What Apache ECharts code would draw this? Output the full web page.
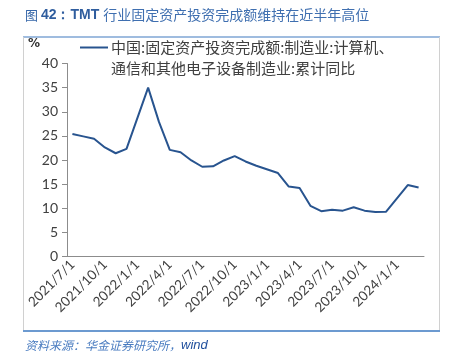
<!DOCTYPE html>
<html><head><meta charset="utf-8">
<script src="https://cdn.jsdelivr.net/npm/echarts@6/dist/echarts.min.js"></script>
<style>html,body{margin:0;padding:0;background:#fff}#c{width:452px;height:360px}</style>
</head><body><div id="c"></div>
<script>
var categories = ["2021/7/1","2021/8/1","2021/9/1","2021/10/1","2021/11/1","2021/12/1",
  "2022/1/1","2022/2/1","2022/3/1","2022/4/1","2022/5/1","2022/6/1","2022/7/1","2022/8/1","2022/9/1","2022/10/1","2022/11/1","2022/12/1",
  "2023/1/1","2023/2/1","2023/3/1","2023/4/1","2023/5/1","2023/6/1","2023/7/1","2023/8/1","2023/9/1","2023/10/1","2023/11/1","2023/12/1",
  "2024/1/1","2024/2/1","2024/3/1"];
var values = [25.4,24.9,24.4,22.6,21.4,22.3,
  null,35.0,27.9,22.1,21.6,19.9,18.6,18.7,19.9,20.8,19.7,18.8,
  null,17.3,14.5,14.2,10.5,9.4,9.7,9.5,10.2,9.5,9.2,9.3,
  null,14.8,14.3];
var seriesName = "中国:固定资产投资完成额:制造业:计算机、通信和其他电子设备制造业:累计同比";
var legendLines = ["中国:固定资产投资完成额:制造业:计算机、","通信和其他电子设备制造业:累计同比"];
var titleParts = ["图 ", "42：TMT ", "行业固定资产投资完成额维持在近半年高位"];
var sourceParts = ["资料来源：华金证券研究所，", "wind"];
var yTicks = [0,5,10,15,20,25,30,35,40];

var chart = echarts.init(document.getElementById('c'), null, {renderer:'canvas'});
var lineColor = '#28548f';
var txt = '#404040';
var axisFont = 'Lato, "Open Sans", sans-serif';
chart.setOption({
  animation:false,
  backgroundColor:'#fff',
  grid:{left:67, right:28, top:63.5, bottom:103.5, containLabel:false},
  xAxis:{type:'category', data:categories, boundaryGap:true,
    axisLine:{lineStyle:{color:'#8c8c8c', width:1}},
    axisTick:{interval:2, length:5, lineStyle:{color:'#8c8c8c'}},
    axisLabel:{interval:2, rotate:45, fontSize:13.5, color:txt, fontFamily:axisFont, margin:6}
  },
  yAxis:{type:'value', min:yTicks[0], max:yTicks[yTicks.length-1], interval:5,
    splitLine:{show:false},
    axisLine:{show:true, lineStyle:{color:'#8c8c8c'}},
    axisTick:{show:true, length:5, lineStyle:{color:'#8c8c8c'}},
    axisLabel:{fontSize:14, color:txt, fontFamily:axisFont, margin:9}
  },
  series:[{name:seriesName, type:'line', data:values, connectNulls:true, showSymbol:false, symbol:'none',
    lineStyle:{color:lineColor, width:2}}],
  graphic:[
    {type:'text', x:25, y:15, style:{
      text:'{a|'+titleParts[0]+'}{b|'+titleParts[1]+'}{c|'+titleParts[2]+'}',
      textVerticalAlign:'middle', textAlign:'left',
      rich:{
        a:{fill:'#3566a8', font:'13px "Noto Sans CJK SC", sans-serif'},
        b:{fill:'#2f5d9e', font:'bold 14px "Liberation Sans", Arial, sans-serif'},
        c:{fill:'#3f6fb0', font:'14px "Noto Sans CJK SC", sans-serif'}
      }}},
    {type:'line', shape:{x1:23, y1:37, x2:440, y2:37}, style:{stroke:'#7fa6d4', lineWidth:1.5}},
    {type:'line', shape:{x1:23.5, y1:37, x2:23.5, y2:330}, style:{stroke:'#d0d0d0', lineWidth:1}},
    {type:'line', shape:{x1:439.5, y1:37, x2:439.5, y2:330}, style:{stroke:'#d0d0d0', lineWidth:1}},
    {type:'line', shape:{x1:23, y1:331, x2:440, y2:331}, style:{stroke:'#3b78c0', lineWidth:1.5}},
    {type:'text', x:25, y:345, style:{
      text:'{a|'+sourceParts[0]+'}{b|'+sourceParts[1]+'}',
      textVerticalAlign:'middle', textAlign:'left',
      rich:{
        a:{fill:'#4a7cc0', font:'italic 12px "Noto Sans CJK SC", sans-serif'},
        b:{fill:'#1f4e9c', font:'italic 13px "Liberation Sans", Arial, sans-serif'}
      }}},
    {type:'text', x:28, y:44, style:{text:'%', fill:'#333', font:'bold 12px "DejaVu Sans", sans-serif', textVerticalAlign:'middle'}},
    {type:'line', shape:{x1:80, y1:47.5, x2:108, y2:47.5}, style:{stroke:lineColor, lineWidth:2}},
    {type:'text', x:111, y:47, style:{text:legendLines[0], fill:txt, font:'15px "Noto Sans CJK SC", sans-serif', textVerticalAlign:'middle'}},
    {type:'text', x:111, y:68, style:{text:legendLines[1], fill:txt, font:'15px "Noto Sans CJK SC", sans-serif', textVerticalAlign:'middle'}}
  ]
});
</script></body></html>
